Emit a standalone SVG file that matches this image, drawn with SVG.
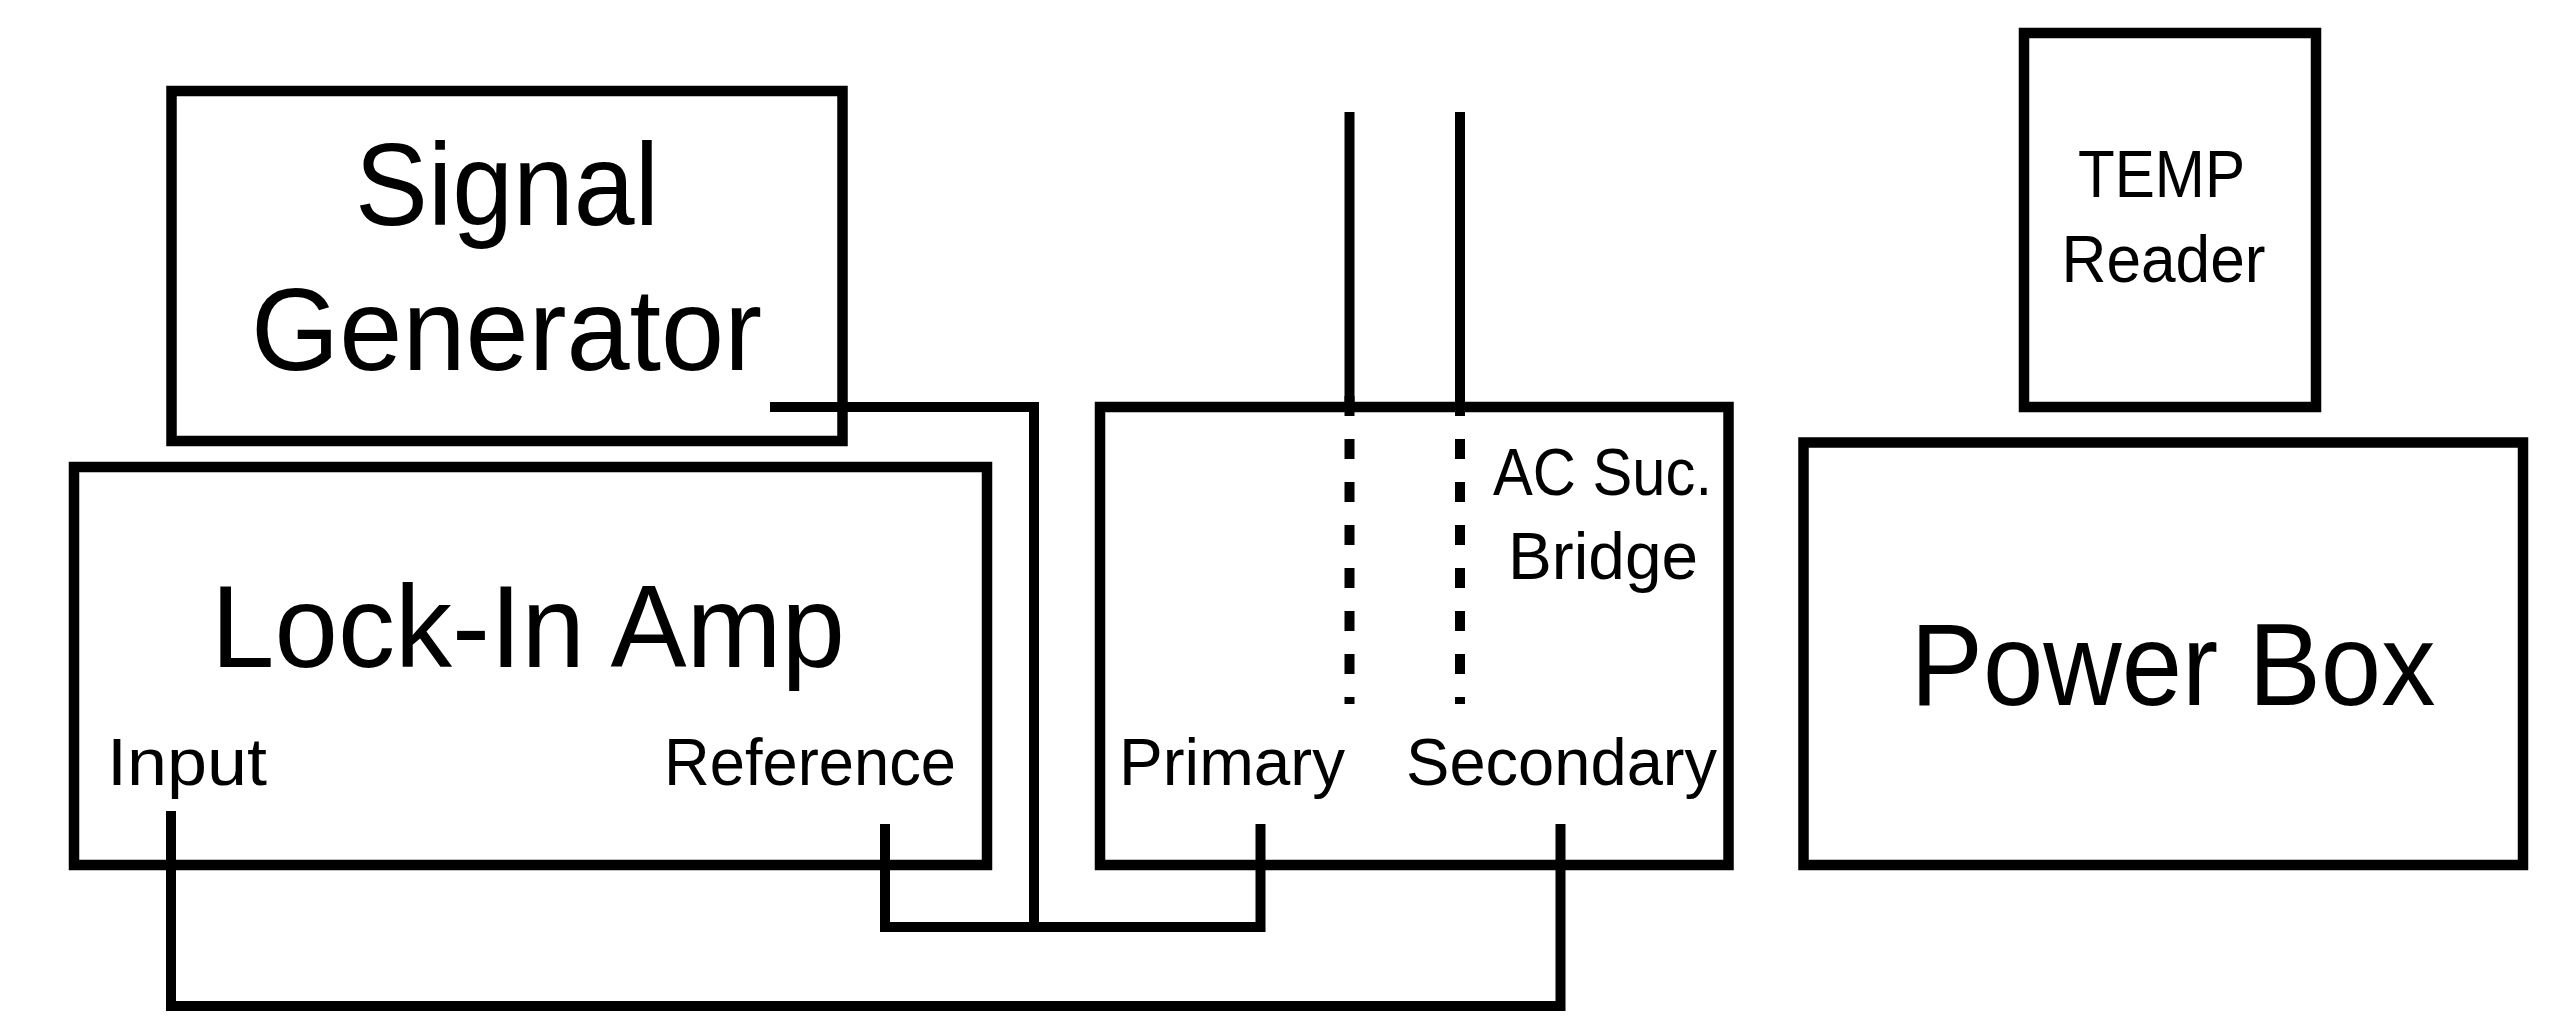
<svg xmlns="http://www.w3.org/2000/svg" width="2572" height="1032" viewBox="0 0 2572 1032">
<style>
.box{fill:none;stroke:#000;stroke-width:10.5}
.wire{fill:none;stroke:#000;stroke-width:10;stroke-linecap:butt;stroke-linejoin:miter}
.dash{stroke-dasharray:20 23}
text{font-family:"Liberation Sans","Noto Sans",sans-serif;fill:#000;text-anchor:middle}
.big{font-size:116px}
.small{font-size:67px}
</style>
<rect width="2572" height="1032" fill="#fff"/>
<g id="signal-generator">
<rect class="box" x="171.5" y="91" width="671" height="350"/>
<text class="big" x="507" y="225" textLength="304" lengthAdjust="spacingAndGlyphs">Signal</text>
<text class="big" x="506.5" y="370" textLength="511" lengthAdjust="spacingAndGlyphs">Generator</text>
</g>
<g id="lock-in-amp">
<rect class="box" x="74" y="467" width="913" height="398"/>
<text class="big" x="528" y="666.5" textLength="634" lengthAdjust="spacingAndGlyphs">Lock-In Amp</text>
<text class="small" x="187" y="785" textLength="160" lengthAdjust="spacingAndGlyphs">Input</text>
<text class="small" x="810" y="785" textLength="292" lengthAdjust="spacingAndGlyphs">Reference</text>
</g>
<g id="ac-bridge">
<rect class="box" x="1100" y="407" width="628.5" height="458"/>
<text class="small" x="1602.5" y="495" textLength="219" lengthAdjust="spacingAndGlyphs">AC Suc.</text>
<text class="small" x="1603" y="578.5" textLength="190" lengthAdjust="spacingAndGlyphs">Bridge</text>
<text class="small" x="1232" y="785" textLength="226" lengthAdjust="spacingAndGlyphs">Primary</text>
<text class="small" x="1561.5" y="785" textLength="311" lengthAdjust="spacingAndGlyphs">Secondary</text>
</g>
<g id="temp-reader">
<rect class="box" x="2024" y="33" width="292" height="374"/>
<text class="small" x="2161.5" y="197" font-size="68" textLength="167" lengthAdjust="spacingAndGlyphs">TEMP</text>
<text class="small" x="2163.5" y="282" font-size="68" textLength="204" lengthAdjust="spacingAndGlyphs">Reader</text>
</g>
<g id="power-box">
<rect class="box" x="1803.5" y="442.5" width="719.5" height="422.5"/>
<text class="big" x="2173" y="705" textLength="525" lengthAdjust="spacingAndGlyphs">Power Box</text>
</g>
<g id="connectors">
<path class="wire" d="M770,407 H1034 V927"/>
<path class="wire" d="M885,824 V927 H1260.5 V824"/>
<path class="wire" d="M171,811 V1006 H1560.5 V824"/>
<path class="wire" d="M1349.5,112 V407"/>
<path class="wire" d="M1460,112 V407"/>
<path class="wire dash" d="M1349.5,396 V704"/>
<path class="wire dash" d="M1460,396 V704"/>
</g>
</svg>
